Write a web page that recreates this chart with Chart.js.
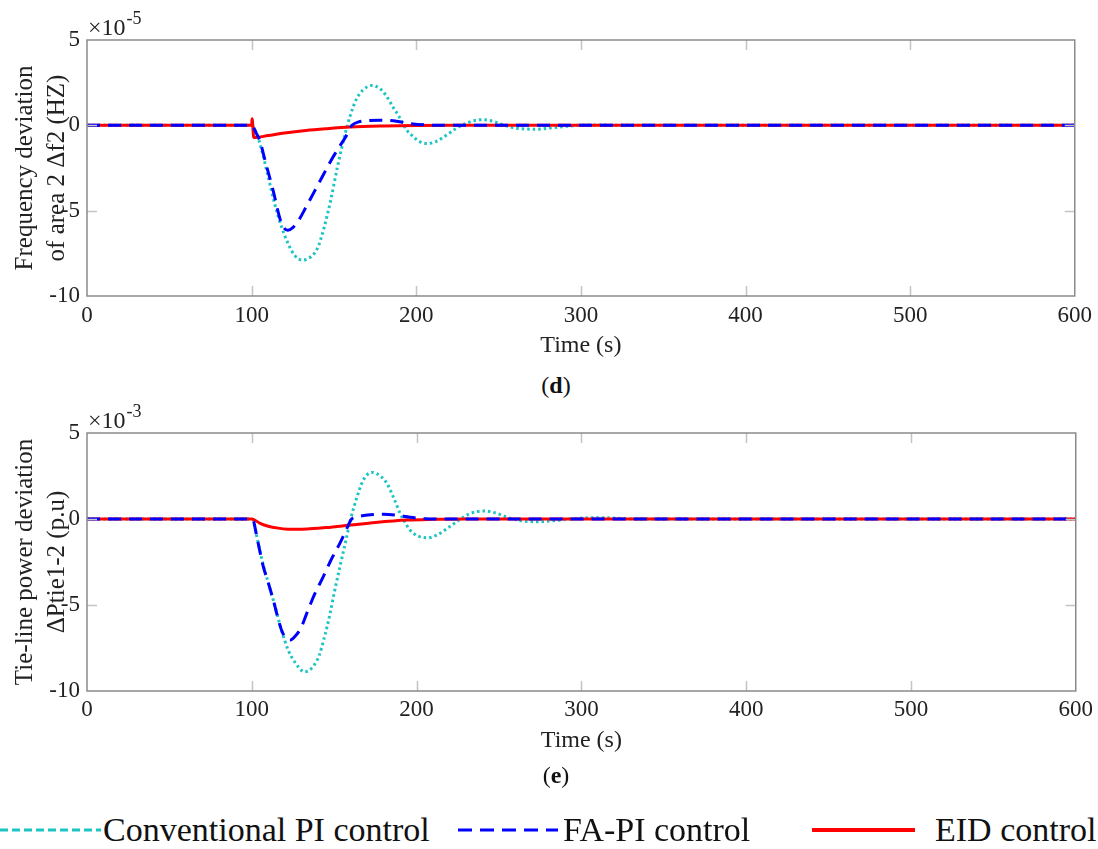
<!DOCTYPE html>
<html>
<head>
<meta charset="utf-8">
<script src="https://cdn.jsdelivr.net/npm/chart.js@4.4.0/dist/chart.umd.min.js"></script>
<style>
    body { margin: 0; background: #fff; }
    #page { position: relative; width: 1098px; height: 849px; font-family: "Liberation Serif", serif; color: #111; }
    .plot { position: absolute; left: 0; width: 1098px; }
    .sub { position: absolute; left: 506px; width: 100px; text-align: center; font-size: 24px; line-height: 26px; }
    .legend { position: absolute; top: 810px; left: 0; width: 1098px; height: 39px; font-size: 34px; }
    .legend svg { position: absolute; top: 17px; }
    .legend .lbl { position: absolute; top: 0; line-height: 39px; white-space: nowrap; }
</style>
</head>
<body>
<div id="page">
    <div class="plot" style="top:0; height:370px;"><canvas id="chartD"></canvas></div>
    <div class="sub" style="top:372px;">(<b>d</b>)</div>
    <div class="plot" style="top:400px; height:370px;"><canvas id="chartE"></canvas></div>
    <div class="sub" style="top:762px;">(<b>e</b>)</div>
    <div class="legend">
        <svg style="left:0" width="101" height="6"><line x1="0" y1="3" x2="101" y2="3" stroke="#1cc4c4" stroke-width="3" stroke-dasharray="8 4"/></svg>
        <div class="lbl" style="left:103px;">Conventional PI control</div>
        <svg style="left:458px" width="100" height="6"><line x1="0" y1="3" x2="100" y2="3" stroke="#0000ff" stroke-width="3" stroke-dasharray="14 8"/></svg>
        <div class="lbl" style="left:563px;">FA-PI control</div>
        <svg style="left:812px" width="103" height="6"><line x1="0" y1="3" x2="103" y2="3" stroke="#ff0000" stroke-width="4"/></svg>
        <div class="lbl" style="left:935px;">EID control</div>
    </div>
</div>
<script>
// axis ticks
const xTicks = [0, 100, 200, 300, 400, 500, 600];
const yTicks = [-10, -5, 0, 5];

// (d) frequency deviation of area 2, x1e-5
const convD_t = [0, 100, 103, 106, 110, 114, 118, 122, 126, 131, 136, 140, 144, 148, 152, 156, 160, 164, 168, 173, 178, 182, 186, 190, 194, 198, 202, 207, 212, 218, 224, 230, 235, 240, 246, 252, 258, 264, 273, 282, 292, 305, 330, 600];
const convD_v = [0, 0, -0.5, -1.4, -3.0, -4.6, -5.9, -6.9, -7.6, -7.9, -7.7, -7.2, -6.0, -4.4, -2.5, -0.8, 0.6, 1.6, 2.1, 2.34, 2.15, 1.7, 1.05, 0.45, -0.25, -0.65, -0.95, -1.07, -0.95, -0.6, -0.2, 0.1, 0.27, 0.33, 0.25, 0.05, -0.12, -0.2, -0.23, -0.15, -0.05, 0.02, 0, 0];
const faD_t = [0, 100, 103, 105, 108, 113, 118, 122, 125, 129, 133, 138, 143, 148, 153, 157, 161, 165, 170, 178, 186, 195, 205, 220, 600];
const faD_v = [0, 0, -0.5, -0.9, -2.0, -3.8, -5.7, -6.15, -6.0, -5.5, -4.8, -3.9, -3.0, -2.1, -1.3, -0.7, 0, 0.2, 0.28, 0.3, 0.27, 0.12, 0.03, 0, 0];
const eidD_t = [0, 100, 100.3, 101.3, 110, 120, 133, 145, 160, 180, 200, 230, 600];
const eidD_v = [0, 0, 0.38, -0.72, -0.6, -0.45, -0.3, -0.2, -0.1, -0.04, -0.01, 0, 0];

// (e) tie-line power deviation, x1e-3
const convE_t = [0, 100, 101, 103, 107, 110, 113, 118, 122, 126, 132, 137, 141, 144, 147.5, 150, 153.5, 157.6, 160, 163.6, 167.7, 173, 178, 182, 186, 190, 193, 196, 201, 207, 213, 220, 226, 232, 241, 248, 255, 262, 273, 283, 293, 302, 311, 322, 335, 600];
const convE_v = [0, 0, -0.1, -1.0, -2.7, -3.7, -4.7, -6.45, -7.6, -8.3, -8.88, -8.6, -7.9, -6.9, -5.5, -4.3, -2.77, -1.03, 0, 1.2, 2.27, 2.71, 2.5, 2.07, 1.25, 0.33, -0.2, -0.64, -1.0, -1.09, -0.9, -0.45, -0.05, 0.3, 0.47, 0.35, 0.1, -0.08, -0.16, -0.1, 0, 0.06, 0.08, 0.04, 0, 0];
const faE_t = [0, 100, 101, 103, 107, 110, 113, 118, 121, 123.5, 126, 130, 133.3, 138, 143.4, 148, 153.5, 157, 160.6, 165, 172, 180, 188, 196, 205, 220, 600];
const faE_v = [0, 0, -0.1, -1.0, -2.77, -3.7, -4.7, -6.45, -6.95, -7.03, -6.85, -6.3, -5.5, -4.4, -3.35, -2.4, -1.4, -0.7, 0, 0.15, 0.25, 0.28, 0.22, 0.1, 0.02, 0, 0];
const eidE_t = [0, 100, 105, 110, 116, 122, 128, 135, 145, 160, 175, 194, 210, 230, 600];
const eidE_v = [0, 0, -0.25, -0.42, -0.53, -0.59, -0.6, -0.57, -0.5, -0.35, -0.2, -0.06, -0.02, 0, 0];

const FONT = '"Liberation Serif", "Times New Roman", serif';

function pts(t, v) {
    return t.map((x, i) => ({ x: x, y: v[i] }));
}

// box, inward ticks and the x10^n label, MATLAB style
const framePlugin = {
    id: 'frame',
    afterDraw(chart, args, opts) {
        const { ctx, chartArea: a, scales: { x, y } } = chart;
        ctx.save();
        ctx.strokeStyle = '#c4c4c4';
        ctx.lineWidth = 1.5;
        ctx.beginPath();
        xTicks.forEach(v => {
            if (v <= 0 || v >= 600) return;
            const px = Math.round(x.getPixelForValue(v)) + 0.5;
            ctx.moveTo(px, a.top); ctx.lineTo(px, a.top + 10);
            ctx.moveTo(px, a.bottom); ctx.lineTo(px, a.bottom - 10);
        });
        yTicks.forEach(v => {
            if (v <= -10 || v >= 5) return;
            const py = Math.round(y.getPixelForValue(v)) + 0.5;
            ctx.moveTo(a.left, py); ctx.lineTo(a.left + 10, py);
            ctx.moveTo(a.right, py); ctx.lineTo(a.right - 10, py);
        });
        ctx.stroke();
        ctx.strokeStyle = '#8a8a8a';
        ctx.lineWidth = 1.5;
        ctx.strokeRect(a.left, a.top, a.width, a.height);

        ctx.fillStyle = '#222';
        ctx.textBaseline = 'alphabetic';
        ctx.font = '24px ' + FONT;
        ctx.fillText('\u00d710', a.left + 1, a.top - 5);
        const w = ctx.measureText('\u00d710').width;
        ctx.font = '18px ' + FONT;
        ctx.fillText(opts.exp, a.left + 2 + w, a.top - 16);
        ctx.restore();
    }
};

function makeChart(id, series, yTitle, exp, geo) {
    const ctx = document.getElementById(id);
    return new Chart(ctx, {
        type: 'line',
        data: {
            datasets: [
                {
                    label: 'Conventional PI control',
                    data: pts(series[0][0], series[0][1]),
                    borderColor: '#1cc4c4',
                    borderWidth: 3,
                    borderDash: [2.5, 3],
                    order: 3
                },
                {
                    label: 'FA-PI control',
                    data: pts(series[1][0], series[1][1]),
                    borderColor: '#0000ff',
                    borderWidth: 3,
                    borderDash: [13, 8],
                    order: 1
                },
                {
                    label: 'EID control',
                    data: pts(series[2][0], series[2][1]),
                    borderColor: '#ff0000',
                    borderWidth: 3,
                    order: 2
                }
            ]
        },
        options: {
            responsive: true,
            maintainAspectRatio: false,
            animation: false,
            events: [],
            elements: {
                point: { radius: 0 },
                line: { cubicInterpolationMode: 'monotone', fill: false }
            },
            layout: { padding: { top: geo.top, right: 22, left: 0, bottom: 0 } },
            plugins: {
                legend: { display: false },
                tooltip: { enabled: false },
                frame: { exp: exp }
            },
            scales: {
                x: {
                    type: 'linear',
                    min: 0,
                    max: 600,
                    afterBuildTicks: s => { s.ticks = xTicks.map(v => ({ value: v })); },
                    afterFit: s => { s.height = geo.xH; },
                    grid: { display: false, drawTicks: false },
                    border: { display: false },
                    ticks: { color: '#222', font: { family: FONT, size: 23 }, padding: geo.tickPad, maxRotation: 0 },
                    title: {
                        display: true,
                        text: 'Time (s)',
                        color: '#222',
                        font: { family: FONT, size: 24 },
                        padding: { top: 0, bottom: geo.titlePad }
                    }
                },
                y: {
                    min: -10,
                    max: 5,
                    afterBuildTicks: s => { s.ticks = yTicks.map(v => ({ value: v })); },
                    afterFit: s => { s.width = 87; },
                    grid: { display: false, drawTicks: false },
                    border: { display: false },
                    ticks: { color: '#222', font: { family: FONT, size: 23 }, padding: 7 },
                    title: {
                        display: true,
                        text: yTitle,
                        color: '#222',
                        font: { family: FONT, size: 25, lineHeight: 1.3 },
                        padding: { top: 9, bottom: 0 }
                    }
                }
            }
        },
        plugins: [framePlugin]
    });
}

makeChart('chartD',
    [[convD_t, convD_v], [faD_t, faD_v], [eidD_t, eidD_v]],
    ['Frequency deviation', 'of area 2 \u0394f2 (HZ)'], '-5',
    { top: 40, xH: 74, tickPad: 6, titlePad: 10 });

makeChart('chartE',
    [[convE_t, convE_v], [faE_t, faE_v], [eidE_t, eidE_v]],
    ['Tie-line power deviation', '\u0394Ptie1-2 (p.u)'], '-3',
    { top: 33, xH: 79, tickPad: 5, titlePad: 15 });
</script>
</body>
</html>
